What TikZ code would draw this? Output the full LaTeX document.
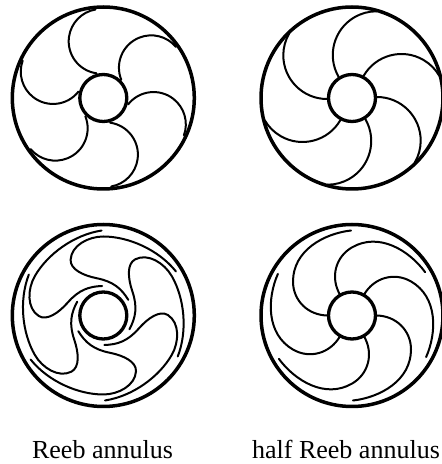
\documentclass[tikz,border=0pt]{standalone}
\usepackage{fontspec}
\setmainfont{Liberation Serif}
\tikzset{
  rim/.style={line width=3.5pt},
  hub/.style={line width=3.3pt},
  leaf/.style={line width=2pt, line cap=round},
  caption/.style={anchor=base, font=\fontsize{26}{30}\selectfont},
}
\begin{document}
\begin{tikzpicture}[x=1pt, y=1pt]

\def\R{91}   
\def\r{23.5} 
\def\xL{103.3} 
\def\xQ{352}   
\def\yT{366}   
\def\yB{148.5} 

\useasboundingbox (0,0) rectangle (442,464);

% top left
\begin{scope}[shift={(\xL,\yT)}]
\foreach \a in {0,60,...,300}
  \draw[leaf, rotate=\a] (-6.8,24.7) arc [start angle=262, end angle=100, radius=32.3];
\draw[rim] (0,0) circle (\R);
\draw[hub] (0,0) circle (\r);
\end{scope}

% top right
\begin{scope}[shift={(\xQ,\yT)}]
\foreach \a in {0,60,...,300}
  \draw[leaf, rotate=\a] (-25,-1) arc [start angle=270, end angle=150, radius=43.7];
\draw[rim] (0,0) circle (\R);
\draw[hub] (0,0) circle (\r);
\end{scope}

% bottom left
\begin{scope}[shift={(\xL,\yB)}]
\foreach \a in {0,60,...,300}
  \draw[leaf, rotate=\a] (25,15.7) .. controls (18,27) and (10,34) .. (-6.7,37.3)
    .. controls (-20,40) and (-33,46) .. (-32.7,55.7)
    .. controls (-32,70) and (-15,79) .. (0,79)
    .. controls (25,79) and (55,66) .. (72.7,44);
\draw[rim] (0,0) circle (\R);
\draw[hub] (0,0) circle (\r);
\end{scope}

% bottom right
\begin{scope}[shift={(\xQ,\yB)}]
\foreach \a in {0,60,...,300}
  \draw[leaf, rotate=\a] (-24,0) .. controls (-44,0) and (-59,15) .. (-59,34)
    .. controls (-59,65) and (-28,82) .. (-1,85);
\draw[rim] (0,0) circle (\R);
\draw[hub] (0,0) circle (\r);
\end{scope}

\node[caption] (reeb) at (102.5,5.7) {Reeb annulus};
\node[caption] (halfreeb) at (346,5.7) {half Reeb annulus};

\end{tikzpicture}
\end{document}
